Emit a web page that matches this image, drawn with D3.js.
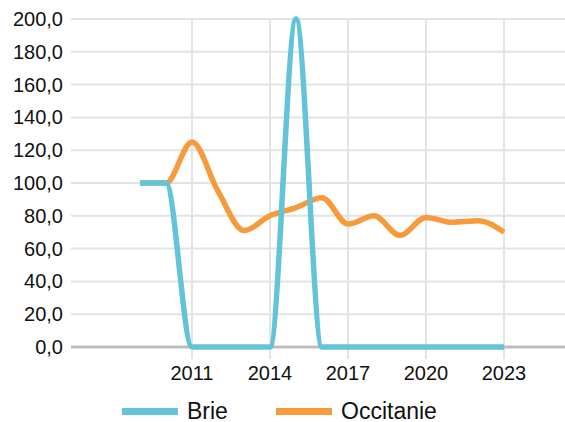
<!DOCTYPE html>
<html>
<head>
<script src="https://cdn.jsdelivr.net/npm/d3@7"></script>
<style>
  body { margin: 0; background: #fff; overflow: hidden; }
  text { font-family: "Liberation Sans", Arial, sans-serif; }
</style>
</head>
<body>
<div id="chart"></div>
<script>
// data
var years = [2009, 2010, 2011, 2012, 2013, 2014, 2015, 2016, 2017, 2018, 2019, 2020, 2021, 2022, 2023];
var brie = [100, 100, 0, 0, 0, 0, 200, 0, 0, 0, 0, 0, 0, 0, 0];
var occitanie = [100, 100, 125, 95, 71, 80, 85, 91, 75, 80, 68, 79, 76, 77, 70];
var xTicks = [2011, 2014, 2017, 2020, 2023];
var yTicks = [0, 20, 40, 60, 80, 100, 120, 140, 160, 180, 200];
var seriesNames = ["Brie", "Occitanie"];
var colors = ["#62c3d9", "#f69a3c"];

var W = 565, H = 422;
var plotLeft = 71, plotRight = 565, plotTop = 19, plotBottom = 347;

var svg = d3.select("#chart").append("svg")
    .attr("width", W)
    .attr("height", H)
    .style("display", "block");

var x = d3.scaleLinear().domain([2009, 2023]).range([140, 504]);
var y = d3.scaleLinear().domain([0, 200]).range([plotBottom, plotTop]);

// horizontal grid
svg.append("g").selectAll("line")
    .data(yTicks.filter(function(d) { return d > 0; }))
    .enter().append("line")
    .attr("x1", plotLeft).attr("x2", plotRight)
    .attr("y1", function(d) { return y(d); })
    .attr("y2", function(d) { return y(d); })
    .style("stroke", "#e3e3e3")
    .style("stroke-width", 2);

// vertical grid
svg.append("g").selectAll("line")
    .data(xTicks)
    .enter().append("line")
    .attr("x1", function(d) { return x(d); })
    .attr("x2", function(d) { return x(d); })
    .attr("y1", plotTop).attr("y2", plotBottom + 12)
    .style("stroke", "#e3e3e3")
    .style("stroke-width", 2);

// zero line
svg.append("line")
    .attr("x1", plotLeft).attr("x2", plotRight)
    .attr("y1", y(0)).attr("y2", y(0))
    .style("stroke", "#bdbdbd")
    .style("stroke-width", 3);

// y labels
var fmt = function(d) { return d.toFixed(1).replace(".", ","); };
svg.append("g").selectAll("text")
    .data(yTicks)
    .enter().append("text")
    .attr("x", 63)
    .attr("y", function(d) { return y(d); })
    .attr("dy", "0.35em")
    .attr("text-anchor", "end")
    .style("font-size", "20px")
    .style("fill", "#111")
    .text(fmt);

// x labels
svg.append("g").selectAll("text")
    .data(xTicks)
    .enter().append("text")
    .attr("x", function(d) { return x(d); })
    .attr("y", 380)
    .attr("text-anchor", "middle")
    .style("font-size", "20px")
    .style("fill", "#111")
    .text(function(d) { return d; });

var line = d3.line()
    .x(function(d) { return x(d[0]); })
    .y(function(d) { return y(d[1]); })
    .curve(d3.curveMonotoneX);

// Occitanie first, Brie on top
[1, 0].forEach(function(i) {
    var vals = i === 0 ? brie : occitanie;
    svg.append("path")
        .datum(years.map(function(yr, j) { return [yr, vals[j]]; }))
        .attr("d", line)
        .style("fill", "none")
        .style("stroke", colors[i])
        .style("stroke-width", 5.5)
        .style("stroke-linejoin", "round");
});

// legend
var legendX = [122, 276];
seriesNames.forEach(function(name, i) {
    svg.append("rect")
        .attr("x", legendX[i]).attr("y", 408)
        .attr("width", 56).attr("height", 7)
        .style("fill", colors[i]);
    svg.append("text")
        .attr("x", legendX[i] + 65).attr("y", 419)
        .style("font-size", "23px")
        .style("fill", "#111")
        .text(name);
});
</script>
</body>
</html>
